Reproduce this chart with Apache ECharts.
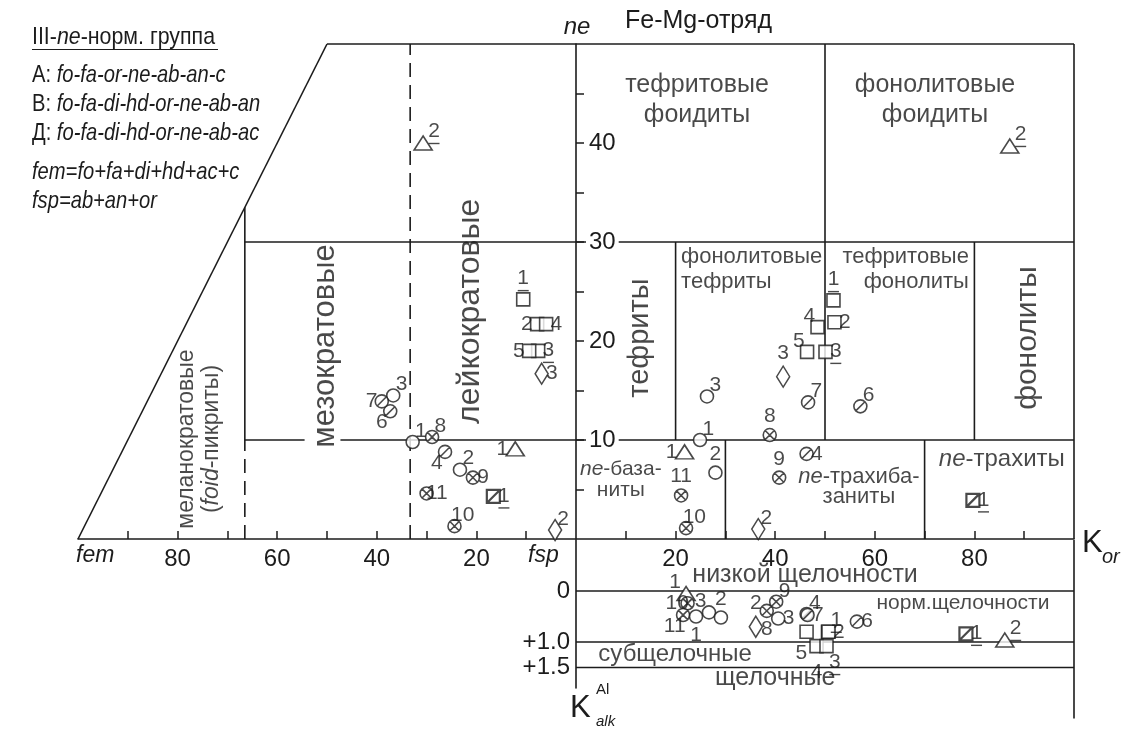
<!DOCTYPE html>
<html>
<head>
<meta charset="utf-8">
<title>Диаграмма fem – fsp – ne – Kor</title>
<script src="https://cdn.jsdelivr.net/npm/echarts@6/dist/echarts.min.js"></script>
<style>
  html, body { margin: 0; padding: 0; background: #fff; }
  #chart { width: 1126px; height: 731px; }
</style>
</head>
<body>
<div id="chart"></div>
<script>
// ---------- axis ticks ----------
// left half of the base axis carries fem (drawn as negative x), right half carries K_or
const baseTicks = [-90, -80, -70, -60, -50, -40, -30, -20, -10, 10, 20, 30, 40, 50, 60, 70, 80, 90];
const baseTickLabels = [-80, -60, -40, -20, 20, 40, 60, 80];
const neTicks = [5, 10, 15, 20, 25, 30, 35, 40, 45];
const neTickLabels = [10, 20, 30, 40];
const alkTickLabels = [0, 1, 1.5];

// ---------- samples: fem vs ne ----------
// [fem, ne, marker, number]
const femNe = [
  [32.8, 9.8, 'circle', '1'],
  [23.3, 7.0, 'circle', '2'],
  [36.7, 14.5, 'circle', '3'],
  [26.3, 8.8, 'slashCircle', '4'],
  [37.3, 12.9, 'slashCircle', '6'],
  [39.0, 13.9, 'slashCircle', '7'],
  [28.9, 10.3, 'crossCircle', '8'],
  [20.7, 6.2, 'crossCircle', '9'],
  [24.4, 1.3, 'crossCircle', '10'],
  [30.0, 4.6, 'crossCircle', '11'],
  [12.2, 9.1, 'triangle', '1'],
  [30.7, 40.0, 'triangle', '2'],
  [10.6, 24.2, 'square', '1'],
  [7.8, 21.7, 'square', '2'],
  [7.6, 19.0, 'square', '3'],
  [6.0, 21.7, 'square', '4'],
  [9.4, 19.0, 'square', '5'],
  [16.6, 4.3, 'slashSquare', '1'],
  [4.2, 0.9, 'diamond', '2'],
  [6.9, 16.7, 'diamond', '3']
];

// ---------- samples: K_or vs ne ----------
const korNe = [
  [24.9, 10.0, 'circle', '1'],
  [28.0, 6.7, 'circle', '2'],
  [26.3, 14.4, 'circle', '3'],
  [46.3, 8.6, 'slashCircle', '4'],
  [57.1, 13.4, 'slashCircle', '6'],
  [46.6, 13.8, 'slashCircle', '7'],
  [38.9, 10.5, 'crossCircle', '8'],
  [40.8, 6.2, 'crossCircle', '9'],
  [22.1, 1.1, 'crossCircle', '10'],
  [21.1, 4.4, 'crossCircle', '11'],
  [21.8, 8.8, 'triangle', '1'],
  [87.1, 39.7, 'triangle', '2'],
  [51.7, 24.1, 'square', '1'],
  [51.9, 21.9, 'square', '2'],
  [50.1, 18.9, 'square', '3'],
  [48.5, 21.4, 'square', '4'],
  [46.4, 18.9, 'square', '5'],
  [79.7, 3.9, 'slashSquare', '1'],
  [36.6, 1.0, 'diamond', '2'],
  [41.6, 16.4, 'diamond', '3']
];

// ---------- samples: K_or vs K_alk(Al) ----------
const korAlk = [
  [22.1, 0.05, 'triangle', '1'],
  [22.4, 0.24, 'crossCircle', '10'],
  [21.5, 0.47, 'crossCircle', '11'],
  [24.1, 0.50, 'circle', '1'],
  [26.7, 0.42, 'circle', '3'],
  [29.1, 0.52, 'circle', '2'],
  [36.1, 0.70, 'diamond', '2'],
  [38.3, 0.39, 'crossCircle', '8'],
  [40.2, 0.21, 'crossCircle', '9'],
  [40.6, 0.54, 'circle', '3'],
  [46.3, 0.45, 'slashCircle', '4'],
  [46.5, 0.47, 'slashCircle', '7'],
  [56.4, 0.60, 'slashCircle', '6'],
  [46.3, 0.80, 'square', '5'],
  [50.6, 0.80, 'square', '1'],
  [50.7, 0.80, 'square', '2'],
  [48.3, 1.08, 'square', '4'],
  [50.3, 1.08, 'square', '3'],
  [78.3, 0.84, 'slashSquare', '1'],
  [86.1, 0.96, 'triangle', '2']
];

// ---------- number placement (p) and underlining (u) ----------
const femNeTags = [
  {p: 'tr'}, {p: 'tr'}, {p: 'tr'}, {p: 'bl'}, {p: 'bl'}, {p: 'l'}, {p: 'tr'}, {p: 'r'}, {p: 'tr'}, {p: 'r'},
  {p: 'l'}, {p: 'tr', u: 1}, {p: 't', u: 1}, {p: 'l'}, {p: 'r', u: 1}, {p: 'r'}, {p: 'l'}, {p: 'r', u: 1},
  {p: 'tr'}, {p: 'r'}
];
const korNeTags = [
  {p: 'tr'}, {p: 't'}, {p: 'tr'}, {p: 'r'}, {p: 'tr'}, {p: 'tr'}, {p: 't'}, {p: 't'}, {p: 'tr'}, {p: 't'},
  {p: 'l'}, {p: 'tr', u: 1}, {p: 't', u: 1}, {p: 'r'}, {p: 'r', u: 1}, {p: 'tl'}, {p: 'tl'}, {p: 'r', u: 1},
  {p: 'tr'}, {p: 't'}
];
const korAlkTags = [
  {p: 'tl'}, {p: 'l'}, {p: 'bl'}, {p: 'b'}, {p: 'tl'}, {p: 't'}, {p: 't'}, {p: 'b'}, {p: 'tr'}, {p: 'r'},
  {p: 'tr'}, {p: 'r'}, {p: 'r'}, {p: 'bll'}, {p: 'tr', u: 1}, {p: 'r'}, {p: 'bb'}, {p: 'brr', u: 1},
  {p: 'r', u: 1}, {p: 'tr', u: 1}
];

// ---------- field boundaries, in axis units ----------
const neFrame = [
  [[-100, 0], [-50, 50]],
  [[-50, 50], [100, 50]],
  [[100, 50], [100, 0]],
  [[-66.5, 33.5], [-66.5, 10]],
  [[-66.5, 30], [100, 30]],
  [[-66.5, 10], [-54.5, 10]],
  [[-47.3, 10], [100, 10]],
  [[50, 10], [50, 50]],
  [[20, 10], [20, 30]],
  [[80, 10], [80, 30]],
  [[30, 0], [30, 10]],
  [[70, 0], [70, 10]]
];
const neDashed = [
  [[-66.5, 0], [-66.5, 10]],
  [[-33.3, 0], [-33.3, 50]]
];
const alkFrame = [
  [[0, 0], [100, 0]],
  [[0, 1], [100, 1]],
  [[0, 1.5], [100, 1.5]],
  [[100, -1], [100, 2.5]]
];

// ---------- field names ----------
const neFieldNames = [
  ['мезократовые', -50.4, 19.5],
  ['лейкократовые', -21.2, 23.0],
  ['меланократовые\n({i|foid}-пикриты)', -75.7, 10.1],
  ['тефриты', 12.9, 20.3],
  ['фонолиты', 90.8, 20.3],
  ['тефритовые\nфоидиты', 24.3, 44.3],
  ['фонолитовые\nфоидиты', 72.1, 44.3],
  ['фонолитовые\nтефриты', 21.1, 27.2],
  ['тефритовые\nфонолиты', 78.9, 27.2],
  ['{i|ne}-база-\nниты', 9.0, 6.0],
  ['{i|ne}-трахиба-\nзаниты', 56.8, 5.25],
  ['{i|ne}-трахиты', 85.5, 8.0]
];
const alkFieldNames = [
  ['низкой щелочности', 46.0, -0.31],
  ['норм.щелочности', 77.7, 0.235],
  ['субщелочные', 19.9, 1.25],
  ['щелочные', 40.0, 1.7]
];

// ================= drawing =================
const FONT = "'Liberation Sans', Arial, Helvetica, sans-serif";
const INK = '#1c1c1c';
const CIRCLE = 'M10,0C15.52,0,20,4.48,20,10C20,15.52,15.52,20,10,20C4.48,20,0,15.52,0,10C0,4.48,4.48,0,10,0Z';
const MARKERS = {
  circle:      {symbol: 'circle', size: 13, w: 1.6},
  crossCircle: {symbol: 'path://' + CIRCLE + 'M2.93,2.93L17.07,17.07M17.07,2.93L2.93,17.07', size: 13, w: 1.6},
  slashCircle: {symbol: 'path://' + CIRCLE + 'M2.93,17.07L17.07,2.93', size: 13, w: 1.6},
  square:      {symbol: 'rect', size: 13, w: 1.6},
  slashSquare: {symbol: 'path://M0,0L20,0L20,20L0,20ZM0,20L20,0', size: 13, w: 2.2},
  triangle:    {symbol: 'triangle', size: [18, 14], w: 1.6},
  diamond:     {symbol: 'diamond', size: [13, 21], w: 1.6}
};
const PLACE = {
  r:   {position: 'right', distance: 3},
  l:   {position: 'left', distance: 3},
  t:   {position: 'top', distance: 1},
  b:   {position: 'bottom', distance: 1},
  bb:  {position: 'bottom', distance: 8},
  tr:  {position: 'right', distance: 1, offset: [0, -11]},
  tl:  {position: 'left', distance: 1, offset: [0, -11]},
  br:  {position: 'right', distance: 1, offset: [0, 11]},
  brr: {position: 'right', distance: 1, offset: [0, 17]},
  bl:  {position: 'left', distance: 1, offset: [0, 11]},
  bll: {position: 'left', distance: 0, offset: [2, 21]}
};
const NUM_SIZE = 21;
const numberRich = {
  n: {fontSize: NUM_SIZE, lineHeight: NUM_SIZE, fontFamily: FONT, color: INK},
  u: {width: 11, height: 1.4, lineHeight: 3, fontSize: 1, backgroundColor: INK}
};

function markerSeries(rows, tags, idx, sign) {
  return {
    type: 'scatter', xAxisIndex: idx, yAxisIndex: idx, z: 5, silent: true,
    data: rows.map((r, i) => {
      const m = MARKERS[r[2]];
      const t = tags[i];
      const place = Object.assign({}, PLACE[t.p]);
      if (t.u) {
        const off = place.offset ? place.offset.slice() : [0, 0];
        off[1] += 1;
        place.offset = off;
      }
      return {
        value: [sign * r[0], r[1]],
        symbol: m.symbol, symbolSize: m.size,
        itemStyle: {color: '#fff', borderColor: INK, borderWidth: m.w},
        label: Object.assign({
          show: true,
          formatter: t.u ? '{n|' + r[3] + '}\n{u| }' : '{n|' + r[3] + '}',
          rich: numberRich, align: 'center'
        }, place)
      };
    })
  };
}

function frameSeries(segs, idx, dashed) {
  return segs.map(s => ({
    type: 'line', xAxisIndex: idx, yAxisIndex: idx, data: s, symbol: 'none', silent: true,
    clip: false, z: 2,
    lineStyle: {color: INK, width: 1.6, type: dashed ? [14, 8] : 'solid'}
  }));
}

const fieldStyle = {
  'мезократовые': {rotate: 90, fontSize: 31},
  'лейкократовые': {rotate: 90, fontSize: 32},
  'меланократовые\n({i|foid}-пикриты)': {rotate: 90, fontSize: 23, lineHeight: 25},
  'тефриты': {rotate: 90, fontSize: 29},
  'фонолиты': {rotate: 90, fontSize: 30},
  'тефритовые\nфоидиты': {fontSize: 25, lineHeight: 30},
  'фонолитовые\nфоидиты': {fontSize: 25, lineHeight: 30},
  'фонолитовые\nтефриты': {fontSize: 22, lineHeight: 25, align: 'left'},
  'тефритовые\nфонолиты': {fontSize: 22, lineHeight: 25, align: 'right'},
  '{i|ne}-база-\nниты': {fontSize: 21, lineHeight: 21},
  '{i|ne}-трахиба-\nзаниты': {fontSize: 22, lineHeight: 20},
  '{i|ne}-трахиты': {fontSize: 24},
  'низкой щелочности': {fontSize: 25},
  'норм.щелочности': {fontSize: 21},
  'субщелочные': {fontSize: 24},
  'щелочные': {fontSize: 25}
};

function fieldSeries(names, idx) {
  return {
    type: 'scatter', xAxisIndex: idx, yAxisIndex: idx, symbolSize: 0, silent: true, z: 4,
    data: names.map(n => {
      const st = fieldStyle[n[0]];
      const size = st.fontSize;
      const lh = st.lineHeight || Math.round(size * 1.15);
      return {
        value: [n[1], n[2]],
        label: {
          show: true, position: 'inside', formatter: n[0], color: INK, fontFamily: FONT,
          fontSize: size, lineHeight: lh,
          rotate: st.rotate || 0, align: st.align || 'center', verticalAlign: 'middle',
          rich: {i: {fontStyle: 'italic', fontFamily: FONT, fontSize: size, lineHeight: lh}}
        }
      };
    })
  };
}

function txt(x, y, text, size, opts) {
  opts = opts || {};
  return {
    type: 'text', x: x, y: y, scaleX: opts.scaleX || 1, silent: true, z: 10,
    style: {
      text: text, x: 0, y: 0, fill: INK, fontFamily: FONT, fontSize: size,
      fontStyle: opts.italic ? 'italic' : 'normal',
      align: opts.align || 'left', verticalAlign: 'middle',
      rich: {i: {fontStyle: 'italic', fontFamily: FONT, fontSize: size}}
    }
  };
}

const axisText = {color: INK, fontFamily: FONT, fontSize: 24};
const hiddenAxis = {show: false, splitLine: {show: false}};

const option = {
  animation: false,
  backgroundColor: '#fff',
  grid: [
    {left: 78, width: 996, top: 44, height: 495},     // data: fem / K_or vs ne
    {left: 78, width: 996, top: 540, height: 147.9},  // data: K_or vs K_alk
    {left: 576, width: 498, top: 44, height: 495},    // ne scale drawn on the fsp origin
    {left: 576, width: 498, top: 540, height: 147.9}  // K_alk scale drawn on the fsp origin
  ],
  xAxis: [
    {
      gridIndex: 0, type: 'value', min: -100, max: 100, interval: 10,
      axisLine: {show: true, onZero: false, lineStyle: {color: INK, width: 1.6}},
      axisTick: {show: true, inside: true, length: 8, customValues: baseTicks, lineStyle: {color: INK, width: 1.5}},
      axisLabel: Object.assign({show: true, margin: 8, customValues: baseTickLabels, formatter: v => String(Math.abs(v))}, axisText),
      splitLine: {show: false}
    },
    Object.assign({gridIndex: 1, type: 'value', min: -100, max: 100}, hiddenAxis),
    Object.assign({gridIndex: 2, type: 'value', min: 0, max: 100}, hiddenAxis),
    Object.assign({gridIndex: 3, type: 'value', min: 0, max: 100}, hiddenAxis)
  ],
  yAxis: [
    Object.assign({gridIndex: 0, type: 'value', min: 0, max: 50}, hiddenAxis),
    Object.assign({gridIndex: 1, type: 'value', min: -1, max: 1.9, inverse: true}, hiddenAxis),
    {
      gridIndex: 2, type: 'value', min: 0, max: 50, interval: 5, z: 6,
      axisLine: {show: true, onZero: false, lineStyle: {color: INK, width: 1.6}},
      axisTick: {show: true, inside: true, length: 8, customValues: neTicks, lineStyle: {color: INK, width: 1.5}},
      axisLabel: Object.assign({show: true, inside: true, margin: 10, customValues: neTickLabels,
        backgroundColor: '#fff', padding: [0, 3]}, axisText),
      splitLine: {show: false}
    },
    {
      gridIndex: 3, type: 'value', min: -1, max: 1.9, inverse: true, z: 6,
      axisLine: {show: true, onZero: false, lineStyle: {color: INK, width: 1.6}},
      axisTick: {show: false},
      axisLabel: Object.assign({show: true, margin: 6, customValues: alkTickLabels,
        formatter: v => v === 0 ? '0' : '+' + v.toFixed(1)}, axisText),
      splitLine: {show: false}
    }
  ],
  series: [].concat(
    frameSeries(neFrame, 0, false),
    frameSeries(neDashed, 0, true),
    frameSeries(alkFrame, 1, false),
    [fieldSeries(neFieldNames, 0), fieldSeries(alkFieldNames, 1)],
    [markerSeries(femNe, femNeTags, 0, -1), markerSeries(korNe, korNeTags, 0, 1), markerSeries(korAlk, korAlkTags, 1, 1)]
  ),
  graphic: [
    txt(32, 37, 'III-{i|ne}-норм. группа', 24, {scaleX: 0.89}),
    {type: 'line', silent: true, shape: {x1: 32, y1: 49.5, x2: 218, y2: 49.5}, style: {stroke: INK, lineWidth: 1.2}},
    txt(32, 75, 'А: {i|fo-fa-or-ne-ab-an-c}', 24, {scaleX: 0.84}),
    txt(32, 104, 'В: {i|fo-fa-di-hd-or-ne-ab-an}', 24, {scaleX: 0.84}),
    txt(32, 133, 'Д: {i|fo-fa-di-hd-or-ne-ab-ac}', 24, {scaleX: 0.84}),
    txt(32, 172, 'fem=fo+fa+di+hd+ac+c', 24, {scaleX: 0.84, italic: true}),
    txt(32, 201, 'fsp=ab+an+or', 24, {scaleX: 0.84, italic: true}),
    txt(577, 27, 'ne', 24, {italic: true, align: 'center'}),
    txt(625, 21, 'Fe-Mg-отряд', 25),
    txt(76, 556, 'fem', 23, {italic: true}),
    txt(528, 556, 'fsp', 23, {italic: true}),
    txt(1082, 543, 'K', 31),
    txt(1102, 557, 'or', 20, {italic: true}),
    txt(570, 708, 'K', 31),
    txt(596, 690, 'Al', 15),
    txt(596, 722, 'alk', 15, {italic: true})
  ]
};

const chart = echarts.init(document.getElementById('chart'), null, {renderer: 'canvas'});
chart.setOption(option);
</script>
</body>
</html>
